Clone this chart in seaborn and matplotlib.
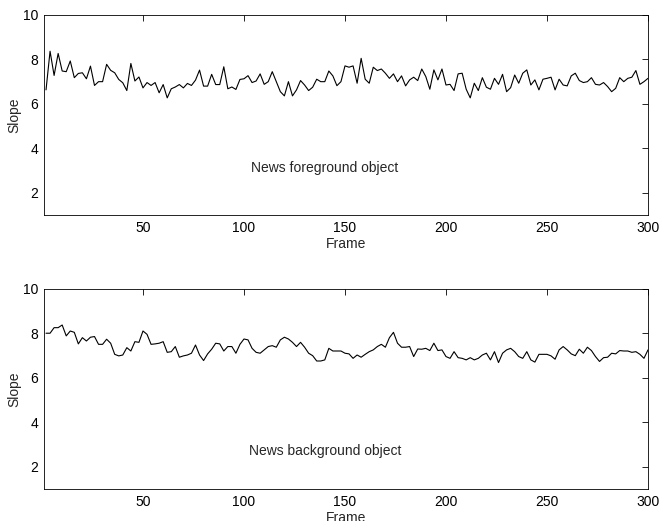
import numpy as np
import pandas as pd
import matplotlib
matplotlib.use("Agg")
import matplotlib.pyplot as plt
import seaborn as sns

# slope per frame (every 2nd frame)
frames = np.arange(2, 301, 2)

fg_slope = [
    6.63, 8.37, 7.28, 8.27, 7.48, 7.45, 7.93, 7.18, 7.37, 7.40, 7.13, 7.70, 6.83, 7.00, 7.00, 7.78, 7.51, 7.40, 7.10, 6.95, 6.60, 7.82, 7.03, 7.21, 6.72,
    6.96, 6.83, 6.96, 6.50, 6.87, 6.27, 6.68, 6.76, 6.87, 6.72, 6.92, 6.83, 7.07, 7.52, 6.80, 6.80, 7.33, 6.87, 6.87, 7.67, 6.68, 6.76, 6.65, 7.10, 7.13,
    7.27, 6.96, 7.03, 7.35, 6.88, 7.00, 7.45, 7.00, 6.55, 6.36, 7.00, 6.36, 6.63, 7.05, 6.85, 6.60, 6.75, 7.11, 7.00, 7.00, 7.48, 7.26, 6.82, 7.00, 7.71,
    7.65, 7.71, 6.93, 8.05, 7.11, 6.93, 7.65, 7.50, 7.57, 7.38, 7.15, 7.35, 7.00, 7.26, 6.81, 7.08, 7.20, 7.05, 7.57, 7.23, 6.66, 7.53, 7.08, 7.57, 6.85,
    6.88, 6.60, 7.35, 7.38, 6.66, 6.27, 6.93, 6.60, 7.18, 6.75, 6.66, 7.15, 6.88, 7.33, 6.55, 6.73, 7.30, 6.93, 7.38, 7.53, 6.85, 7.08, 6.63, 7.11, 7.15,
    7.20, 6.63, 7.11, 6.85, 6.81, 7.26, 7.38, 7.05, 6.96, 7.00, 7.18, 6.88, 6.85, 6.96, 6.78, 6.55, 6.70, 7.18, 7.00, 7.15, 7.20, 7.50, 6.88, 7.00, 7.15,
]

bg_slope = [
    8.01, 8.01, 8.26, 8.26, 8.38, 7.89, 8.11, 8.05, 7.53, 7.81, 7.66, 7.83, 7.86, 7.51, 7.51, 7.74, 7.56, 7.06, 6.99, 7.03, 7.36, 7.21, 7.63, 7.60, 8.11,
    7.96, 7.51, 7.53, 7.56, 7.63, 7.15, 7.18, 7.41, 6.93, 6.99, 7.03, 7.11, 7.48, 7.03, 6.78, 7.08, 7.29, 7.56, 7.53, 7.21, 7.41, 7.41, 7.11, 7.51, 7.75,
    7.71, 7.33, 7.15, 7.11, 7.26, 7.41, 7.45, 7.38, 7.71, 7.83, 7.75, 7.60, 7.41, 7.60, 7.38, 7.11, 7.00, 6.76, 6.76, 6.81, 7.33, 7.21, 7.21, 7.21, 7.11,
    7.08, 6.88, 7.03, 6.93, 7.06, 7.18, 7.26, 7.41, 7.51, 7.38, 7.81, 8.05, 7.56, 7.38, 7.38, 7.41, 6.96, 7.30, 7.29, 7.33, 7.23, 7.56, 7.23, 7.26, 6.96,
    6.88, 7.18, 6.91, 6.88, 6.81, 6.91, 6.81, 6.88, 7.03, 7.11, 6.81, 7.18, 6.69, 7.11, 7.26, 7.33, 7.18, 6.96, 6.88, 7.18, 6.81, 6.71, 7.06, 7.06, 7.06,
    6.99, 6.84, 7.26, 7.41, 7.26, 7.08, 7.00, 7.29, 7.11, 7.38, 7.23, 6.96, 6.74, 6.91, 6.93, 7.11, 7.08, 7.23, 7.21, 7.21, 7.15, 7.18, 7.06, 6.88, 7.26,
]

labels = ["News foreground object", "News background object"]
xticks = [50, 100, 150, 200, 250, 300]
yticks = [2, 4, 6, 8, 10]

sns.set_style("white")
plt.rcParams["font.family"] = ["Liberation Sans", "DejaVu Sans"]
plt.rcParams["font.size"] = 10

fig = plt.figure(figsize=(6.59, 5.21), dpi=100)
ax1 = fig.add_axes([44 / 659, 1 - 215 / 521, 604 / 659, 200 / 521])
ax2 = fig.add_axes([44 / 659, 1 - 489 / 521, 604 / 659, 200 / 521])

for ax, vals, lab, ty in [(ax1, fg_slope, labels[0], 3.1), (ax2, bg_slope, labels[1], 2.7)]:
    df = pd.DataFrame({"Frame": frames, "Slope": vals})
    sns.lineplot(data=df, x="Frame", y="Slope", color="black", lw=0.8, ax=ax)
    ax.set_xlim(1, 300)
    ax.set_ylim(1, 10)
    ax.set_xticks(xticks)
    ax.set_yticks(yticks)
    ax.tick_params(direction="in", length=4, width=0.6, top=True, right=True,
                   labelsize=10, pad=4, colors="black")
    for s in ax.spines.values():
        s.set_visible(True)
        s.set_linewidth(0.6)
        s.set_color("black")
    ax.set_xlabel("Frame", fontsize=10, labelpad=2)
    ax.set_ylabel("Slope", fontsize=10, labelpad=1)
    ax.text(140, ty, lab, ha="center", va="center", fontsize=10)

fig.savefig("out.png", dpi=100)
